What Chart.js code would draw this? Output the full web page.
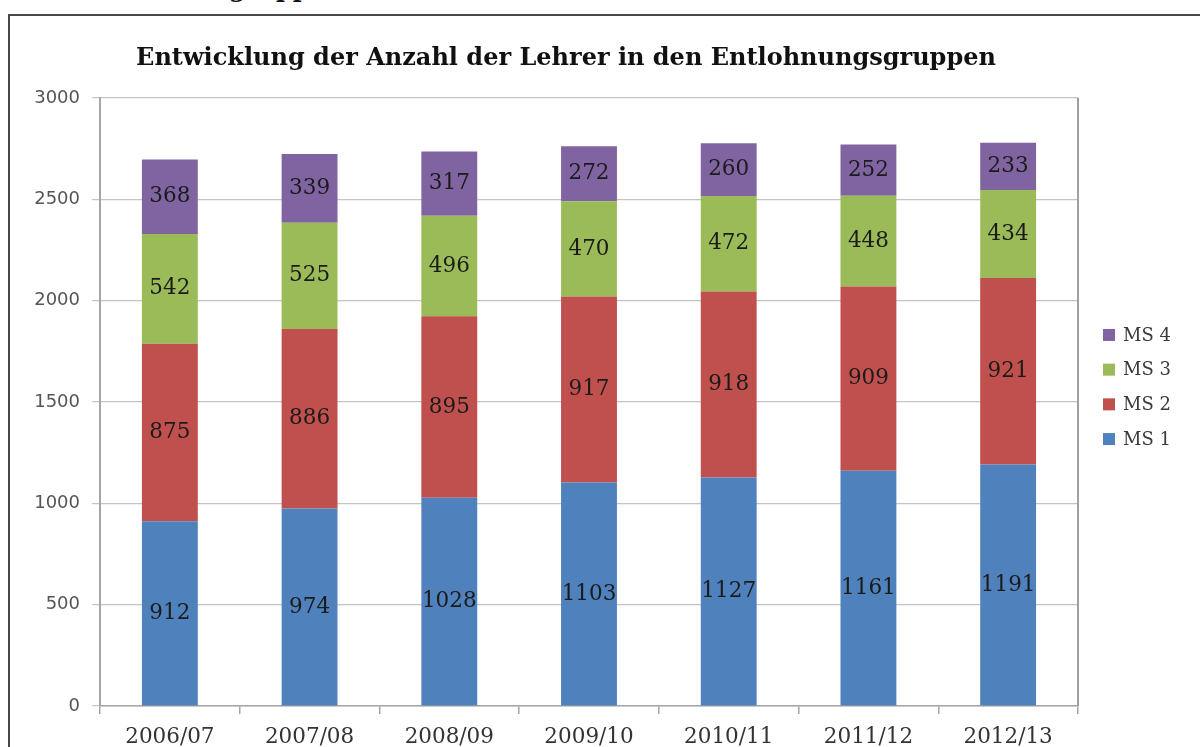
<!DOCTYPE html>
<html>
<head>
<meta charset="utf-8">
<script src="https://cdn.jsdelivr.net/npm/chart.js@4"></script>
<style>
  html, body { margin: 0; padding: 0; background: #fff; overflow: hidden; }
  #wrap { position: relative; width: 1200px; height: 747px; }
  #cut { position: absolute; left: 229px; top: -23px; font: bold 24px "DejaVu Serif"; line-height: 24px; color: #111; white-space: nowrap; }
  #frame { position: absolute; left: 8px; top: 14px; width: 1300px; height: 800px; border: 2px solid #484848; }
  #c { position: absolute; left: 0; top: 0; }
</style>
</head>
<body>
<div id="wrap">
  <div id="cut">gruppen</div>
  <div id="frame"></div>
  <canvas id="c" width="1200" height="747"></canvas>
</div>
<script>
// Data
const years = ['2006/07', '2007/08', '2008/09', '2009/10', '2010/11', '2011/12', '2012/13'];
const ms1 = [912, 974, 1028, 1103, 1127, 1161, 1191];
const ms2 = [875, 886, 895, 917, 918, 909, 921];
const ms3 = [542, 525, 496, 470, 472, 448, 434];
const ms4 = [368, 339, 317, 272, 260, 252, 233];
const yTicks = [0, 500, 1000, 1500, 2000, 2500, 3000];
const titleText = 'Entwicklung der Anzahl der Lehrer in den Entlohnungsgruppen';

const serif = '"DejaVu Serif", serif';

// title, centred on the outer frame rather than the canvas
const chartTitle = {
  id: 'chartTitle',
  afterDraw(chart) {
    const ctx = chart.ctx;
    ctx.save();
    ctx.font = 'bold 24px ' + serif;
    ctx.fillStyle = '#111';
    ctx.textAlign = 'center';
    ctx.textBaseline = 'alphabetic';
    ctx.fillText(titleText, 566, 65);
    ctx.restore();
  }
};

// value labels in the middle of each segment
const segmentLabels = {
  id: 'segmentLabels',
  afterDatasetsDraw(chart) {
    const ctx = chart.ctx;
    ctx.save();
    ctx.font = '21.5px ' + serif;
    ctx.fillStyle = '#1b1b1b';
    ctx.textAlign = 'center';
    ctx.textBaseline = 'middle';
    chart.data.datasets.forEach((ds, i) => {
      chart.getDatasetMeta(i).data.forEach((bar, j) => {
        ctx.fillText(String(ds.data[j]), bar.x, (bar.y + bar.base) / 2);
      });
    });
    ctx.restore();
  }
};

// right edge of plot box + legend on the right
const boxAndLegend = {
  id: 'boxAndLegend',
  afterDraw(chart) {
    const ctx = chart.ctx;
    const a = chart.chartArea;
    ctx.save();
    ctx.strokeStyle = '#a0a0a0';
    ctx.lineWidth = 2;
    ctx.beginPath();
    ctx.moveTo(a.right, a.top);
    ctx.lineTo(a.right, a.bottom);
    ctx.stroke();

    const items = chart.data.datasets.slice().reverse();
    const step = 34.7;
    const mid = (a.top + a.bottom) / 2 - 15;
    const y0 = mid - step * (items.length - 1) / 2;
    ctx.font = '18px ' + serif;
    ctx.textBaseline = 'middle';
    ctx.textAlign = 'left';
    items.forEach((ds, i) => {
      const y = y0 + i * step;
      ctx.fillStyle = ds.backgroundColor;
      ctx.fillRect(a.right + 25, y - 6, 12, 12);
      ctx.fillStyle = '#3a3a3a';
      ctx.fillText(ds.label, a.right + 45, y + 1);
    });
    ctx.restore();
  }
};

new Chart(document.getElementById('c'), {
  type: 'bar',
  data: {
    labels: years,
    datasets: [
      { label: 'MS 1', data: ms1, backgroundColor: '#4f81bd' },
      { label: 'MS 2', data: ms2, backgroundColor: '#c0504d' },
      { label: 'MS 3', data: ms3, backgroundColor: '#9bbb59' },
      { label: 'MS 4', data: ms4, backgroundColor: '#8064a2' }
    ]
  },
  options: {
    responsive: false,
    animation: false,
    layout: { padding: { left: 0, right: 122, top: 98, bottom: 0 } },
    datasets: { bar: { categoryPercentage: 1, barPercentage: 0.4 } },
    plugins: {
      legend: { display: false },
      tooltip: { enabled: false },
      title: { display: false }
    },
    scales: {
      x: {
        stacked: true,
        afterFit: s => { s.height = 41; },
        grid: { offset: true, drawOnChartArea: false, drawTicks: true, tickLength: 8, color: '#a6a6a6', lineWidth: 1.5 },
        border: { color: '#a6a6a6', width: 1.5 },
        ticks: { color: '#333', padding: 11, font: { family: serif, size: 21.5 } }
      },
      y: {
        stacked: true,
        min: 0,
        max: 3000,
        afterFit: s => { s.width = 100; },
        afterBuildTicks: s => { s.ticks = yTicks.map(v => ({ value: v })); },
        grid: { color: '#c4c4c4', lineWidth: 1.2, tickLength: 8 },
        border: { color: '#a6a6a6', width: 2 },
        ticks: {
          color: '#555',
          padding: 12,
          font: { family: '"DejaVu Sans", sans-serif', size: 18 },
          callback: v => String(v)
        }
      }
    }
  },
  plugins: [chartTitle, segmentLabels, boxAndLegend]
});
</script>
</body>
</html>
